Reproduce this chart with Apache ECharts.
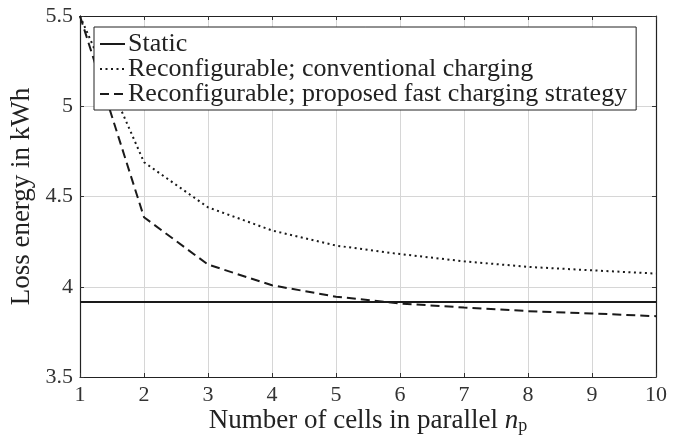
<!DOCTYPE html>
<html>
<head>
<meta charset="utf-8">
<script src="https://cdn.jsdelivr.net/npm/echarts@6/dist/echarts.min.js"></script>
<style>html,body{margin:0;padding:0;background:#fff}#c{width:694px;height:436px}</style>
</head>
<body>
<div id="c"></div>
<script>
var cellsParallel = [1, 2, 3, 4, 5, 6, 7, 8, 9, 10];
var staticLoss = [3.915, 3.915, 3.915, 3.915, 3.915, 3.915, 3.915, 3.915, 3.915, 3.915];
var conventionalLoss = [5.5, 4.69, 4.44, 4.312, 4.228, 4.181, 4.141, 4.110, 4.091, 4.073];
var proposedLoss = [5.5, 4.385, 4.123, 4.008, 3.945, 3.907, 3.885, 3.865, 3.852, 3.837];
var seriesNames = ['Static', 'Reconfigurable; conventional charging', 'Reconfigurable; proposed fast charging strategy'];

function pairs(ys) { return cellsParallel.map(function (x, i) { return [x, ys[i]]; }); }

var font = 'Liberation Serif';
var chart = echarts.init(document.getElementById('c'));
var axisCommon = {
  axisLine: { show: true, lineStyle: { color: '#222', width: 1.2 } },
  axisTick: { show: true, inside: true, length: 4, lineStyle: { color: '#333' } },
  splitLine: { show: false }
};
chart.setOption({
  animation: false,
  backgroundColor: '#fff',
  textStyle: { fontFamily: font },
  grid: { left: 80, right: 38, top: 16, bottom: 59, show: false, containLabel: false, outerBoundsMode: 'none' },
  legend: {
    orient: 'vertical', left: 94, top: 27,
    backgroundColor: '#fff', borderColor: '#222', borderWidth: 1, borderRadius: 0,
    padding: [4, 9, 3, 5], itemWidth: 25, itemHeight: 14, itemGap: -1,
    itemStyle: { opacity: 0 },
    textStyle: { fontFamily: font, fontSize: 26, color: '#222', padding: [0, 0, 0, -2] },
    data: seriesNames
  },
  xAxis: [
    Object.assign({}, axisCommon, {
      type: 'value', min: 1, max: 10, interval: 1,
      axisLabel: { fontFamily: font, fontSize: 22, color: '#333', margin: 7 },
      splitLine: { show: true, lineStyle: { color: '#d6d6d6', width: 1 } },
      name: '{t|Number of cells in parallel }{n|n}{p|p}',
      nameLocation: 'middle', nameGap: 30, nameMoveOverlap: false,
      nameTextStyle: {
        rich: {
          t: { fontFamily: font, fontSize: 27, color: '#222' },
          n: { fontFamily: font, fontSize: 27, fontStyle: 'italic', color: '#222' },
          p: { fontFamily: font, fontSize: 18, color: '#222', verticalAlign: 'bottom', padding: [10, 0, 0, 0] }
        }
      }
    }),
    Object.assign({}, axisCommon, {
      type: 'value', min: 1, max: 10, interval: 1, position: 'top',
      axisLabel: { show: false }
    })
  ],
  yAxis: [
    Object.assign({}, axisCommon, {
      type: 'value', min: 3.5, max: 5.5, interval: 0.5,
      axisLabel: { fontFamily: font, fontSize: 22, color: '#333', margin: 7 },
      splitLine: { show: true, lineStyle: { color: '#d6d6d6', width: 1 } },
      name: 'Loss energy in kWh', nameLocation: 'middle', nameGap: 45, nameMoveOverlap: false,
      nameTextStyle: { fontFamily: font, fontSize: 27, color: '#222' }
    }),
    Object.assign({}, axisCommon, {
      type: 'value', min: 3.5, max: 5.5, interval: 0.5, position: 'right',
      axisLabel: { show: false }
    })
  ],
  series: [
    { name: seriesNames[0], type: 'line', data: pairs(staticLoss), symbol: 'none',
      lineStyle: { color: '#1a1a1a', width: 2, type: 'solid' }, itemStyle: { color: '#1a1a1a' } },
    { name: seriesNames[1], type: 'line', data: pairs(conventionalLoss), symbol: 'none',
      lineStyle: { color: '#1a1a1a', width: 2, type: [2, 3.5] }, itemStyle: { color: '#1a1a1a' } },
    { name: seriesNames[2], type: 'line', data: pairs(proposedLoss), symbol: 'none',
      lineStyle: { color: '#1a1a1a', width: 2, type: [9, 5] }, itemStyle: { color: '#1a1a1a' } }
  ]
});
</script>
</body>
</html>
